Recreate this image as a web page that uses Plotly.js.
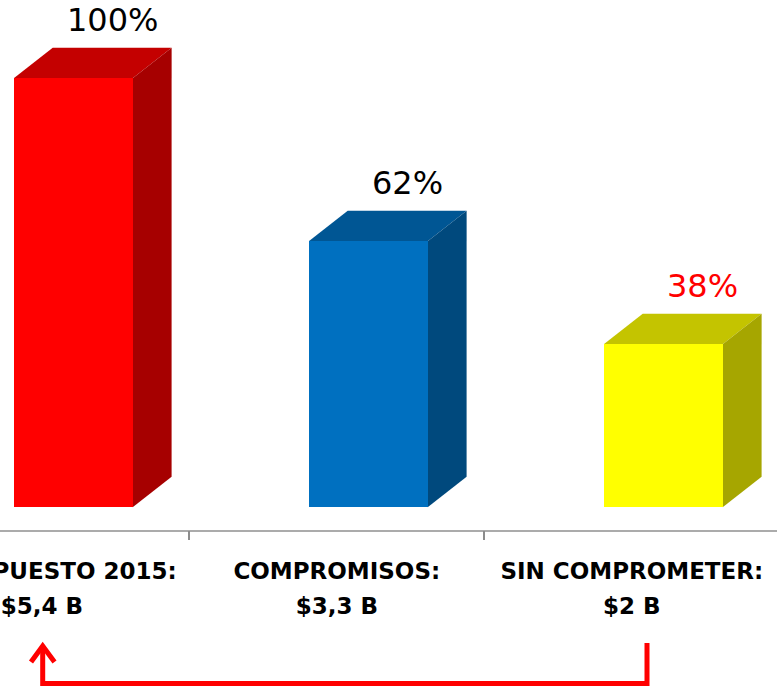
<!DOCTYPE html>
<html>
<head>
<meta charset="utf-8">
<script src="https://cdn.plot.ly/plotly-3.0.1.min.js"></script>
<style>html,body{margin:0;padding:0;background:#fff;}</style>
</head>
<body>
<div id="chart" style="width:777px;height:687px;"></div>
<script>
// ---- data ----
const categories = ['PRESUPUESTO 2015:', 'COMPROMISOS:', 'SIN COMPROMETER:'];
const amounts = ['$5,4 B', '$3,3 B', '$2 B'];
const percents = [100, 62, 38];
const percentLabels = ['100%', '62%', '38%'];

// ---- styles ----
const frontColors = ['#FF0000', '#0070C0', '#FFFF00'];
const topColors = ['#C40000', '#005694', '#C4C400'];
const sideColors = ['#A60000', '#00497D', '#A6A600'];
const labelColors = ['#000000', '#000000', '#FF0000'];

const W = 777, H = 687;
const plotBottom = 530;           // pixel row of the category axis line
const barWidth = 0.403, barOffset = -0.095;
const depthX = 0.132, depthY = 7.1; // 3D depth in axis units
const xRange = [-0.1417, 2.4922];
const yRange = [-5.29, 118.25];

const xs = categories.map((c, i) => i);

const shapes = [];
percents.forEach((v, i) => {
  const x0 = xs[i] + barOffset, x1 = x0 + barWidth;
  shapes.push({
    type: 'path', xref: 'x', yref: 'y', layer: 'below',
    path: `M ${x0},${v} L ${x1},${v} L ${x1 + depthX},${v + depthY} L ${x0 + depthX},${v + depthY} Z`,
    fillcolor: topColors[i], line: {width: 0}
  });
  shapes.push({
    type: 'path', xref: 'x', yref: 'y', layer: 'below',
    path: `M ${x1},0 L ${x1},${v} L ${x1 + depthX},${v + depthY} L ${x1 + depthX},${depthY} Z`,
    fillcolor: sideColors[i], line: {width: 0}
  });
});

// red connector arrow (pixel positions converted to paper coords)
const px = p => p / W;
const py = p => (plotBottom - p) / plotBottom;
shapes.push({
  type: 'path', xref: 'paper', yref: 'paper', layer: 'above',
  path: `M ${px(647)},${py(643)} L ${px(647)},${py(683.5)} L ${px(42.7)},${py(683.5)} L ${px(42.7)},${py(646)}`,
  fillcolor: 'rgba(0,0,0,0)', line: {color: '#FF0000', width: 5}
});
shapes.push({
  type: 'path', xref: 'paper', yref: 'paper', layer: 'above',
  path: `M ${px(31)},${py(662)} L ${px(42.7)},${py(646)} L ${px(54.5)},${py(662)}`,
  fillcolor: 'rgba(0,0,0,0)', line: {color: '#FF0000', width: 5}
});

const annotations = percents.map((v, i) => ({
  x: xs[i] + barOffset + barWidth / 2 + depthX,
  y: v + depthY,
  xref: 'x', yref: 'y',
  text: percentLabels[i],
  showarrow: false,
  yanchor: 'bottom', xanchor: 'center',
  yshift: 7,
  font: {family: 'DejaVu Sans', size: 32, color: labelColors[i]}
}));

const traces = [
  {
    type: 'bar', x: xs, y: percents,
    width: barWidth, offset: barOffset,
    marker: {color: frontColors, line: {width: 0}},
    hoverinfo: 'none'
  },
  {type: 'scatter', x: [], y: [], xaxis: 'x2', yaxis: 'y', hoverinfo: 'none'},
  {type: 'scatter', x: [], y: [], xaxis: 'x3', yaxis: 'y', hoverinfo: 'none'}
];

const tickFont = {family: 'DejaVu Sans', size: 23, color: '#000000', weight: 'bold'};

const layout = {
  width: W, height: H,
  margin: {l: 0, r: 0, t: 0, b: H - plotBottom, pad: 0},
  paper_bgcolor: '#FFFFFF', plot_bgcolor: '#FFFFFF',
  showlegend: false,
  bargap: 0,
  xaxis: {
    type: 'linear', range: xRange, fixedrange: true,
    tickvals: xs, ticktext: categories, ticks: '',
    tickangle: 0, ticklabeloverflow: 'allow', ticklabelstandoff: 19,
    tickfont: tickFont,
    showline: true, linecolor: '#ABABAB', linewidth: 2,
    showgrid: false, zeroline: false
  },
  xaxis2: {
    type: 'linear', range: xRange, overlaying: 'x', anchor: 'y', side: 'bottom',
    tickvals: [0.5, 1.5], ticks: 'outside', ticklen: 9, tickwidth: 2, tickcolor: '#8C8C8C',
    showticklabels: false, showline: false, showgrid: false, zeroline: false
  },
  xaxis3: {
    type: 'linear', range: xRange, overlaying: 'x', anchor: 'y', side: 'bottom',
    tickvals: xs, ticktext: amounts, ticks: '',
    tickangle: 0, ticklabeloverflow: 'allow', ticklabelstandoff: 60,
    tickfont: tickFont,
    showline: false, showgrid: false, zeroline: false
  },
  yaxis: {range: yRange, visible: false, fixedrange: true},
  shapes: shapes,
  annotations: annotations
};

Plotly.newPlot('chart', traces, layout, {staticPlot: true, displayModeBar: false});
</script>
</body>
</html>
